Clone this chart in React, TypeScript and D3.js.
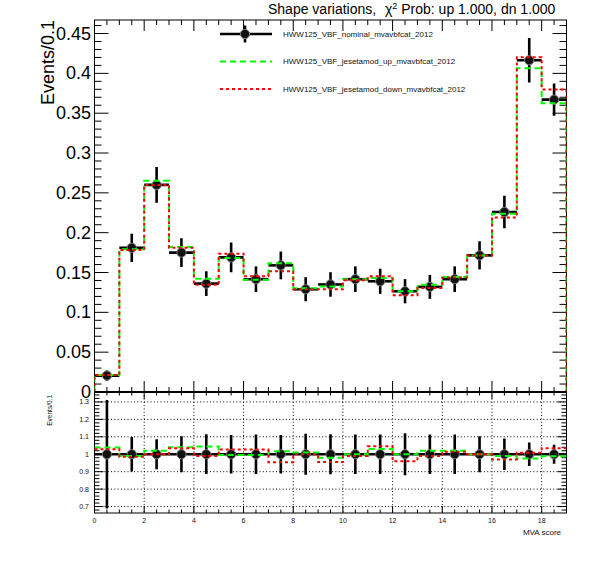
import * as d3 from "d3"

// bin lower edges of the MVA score histogram (19 bins of width 1)
const binLow = [0, 1, 2, 3, 4, 5, 6, 7, 8, 9, 10, 11, 12, 13, 14, 15, 16, 17, 18]
const nominal = [0.0206, 0.181, 0.26, 0.175, 0.136, 0.169, 0.1416, 0.159, 0.129, 0.135, 0.1416, 0.139, 0.1265, 0.132, 0.1416, 0.1715, 0.226, 0.4165, 0.367]
const nominalErr = [0.0064, 0.0178, 0.0224, 0.018, 0.0155, 0.0186, 0.0161, 0.0175, 0.0151, 0.0154, 0.0161, 0.0158, 0.0152, 0.015, 0.0161, 0.0177, 0.0203, 0.0279, 0.0202]
const jesUp = [0.0214, 0.1792, 0.2652, 0.182, 0.1421, 0.1682, 0.1409, 0.1617, 0.1303, 0.1323, 0.1416, 0.1432, 0.1265, 0.1346, 0.1444, 0.1715, 0.2237, 0.4065, 0.3626]
const jesDown = [0.0212, 0.1783, 0.26, 0.1811, 0.1346, 0.1736, 0.1454, 0.1517, 0.129, 0.1289, 0.1402, 0.1453, 0.1214, 0.1307, 0.1437, 0.1715, 0.2192, 0.4202, 0.3798]

const seriesNames = [
  "HWW125_VBF_nominal_mvavbfcat_2012",
  "HWW125_VBF_jesetamod_up_mvavbfcat_2012",
  "HWW125_VBF_jesetamod_down_mvavbfcat_2012",
]

const yTicksTop = [0, 0.05, 0.1, 0.15, 0.2, 0.25, 0.3, 0.35, 0.4, 0.45]
const yLabelsTop = ["0", "0.05", "0.1", "0.15", "0.2", "0.25", "0.3", "0.35", "0.4", "0.45"]
const ratioTicks = [0.7, 0.8, 0.9, 1.0, 1.1, 1.2, 1.3]
const ratioLabels = ["0.7", "0.8", "0.9", "1", "1.1", "1.2", "1.3"]
const xTicks = [0, 2, 4, 6, 8, 10, 12, 14, 16, 18]

const FONT = "'Liberation Sans', Arial, Helvetica, sans-serif"
const GREEN = "#00ff00"
const RED = "#ff0000"

const X0 = 94.5
const X1 = 566.5
const TOP_T = 20
const TOP_B = 392
const LOW_T = 392
const LOW_B = 513

export default function App() {
  const x = d3.scaleLinear().domain([0, 19]).range([X0, X1])
  const yT = d3.scaleLinear().domain([0, 0.467]).range([TOP_B, TOP_T])
  const yR = d3.scaleLinear().domain([0.663, 1.357]).range([LOW_B, LOW_T])

  const step = (y: d3.ScaleLinear<number, number>) =>
    d3
      .line<[number, number]>()
      .x((d) => x(d[0]))
      .y((d) => y(d[1]))
      .curve(d3.curveStepAfter)

  const topHist = (vals: number[]) => {
    const pts: [number, number][] = [[0, 0], ...binLow.map((b, i) => [b, vals[i]] as [number, number]), [19, vals[vals.length - 1]], [19, 0]]
    return step(yT)(pts) || ""
  }
  const ratioHist = (vals: number[]) => {
    const r = vals.map((v, i) => v / nominal[i])
    const pts: [number, number][] = [...binLow.map((b, i) => [b, r[i]] as [number, number]), [19, r[r.length - 1]]]
    return step(yR)(pts) || ""
  }

  const minorX = d3.range(0, 19.01, 0.5)
  const minorYTop = d3.range(0, 0.4601, 0.01)
  const minorYR = d3.range(0.68, 1.3401, 0.02)

  const tick = (k: string, x1: number, y1: number, x2: number, y2: number) => (
    <line key={k} x1={x1} y1={y1} x2={x2} y2={y2} stroke="#000" strokeWidth={1} />
  )

  const isMajorX = (v: number) => Math.abs(v / 2 - Math.round(v / 2)) < 1e-6
  const isMajorYT = (v: number) => Math.abs(v / 0.05 - Math.round(v / 0.05)) < 1e-6
  const isMajorYR = (v: number) => Math.abs(v / 0.1 - Math.round(v / 0.1)) < 1e-6

  const legendY = [34, 61.5, 89]

  return (
    <svg width={596} height={572} style={{ position: "absolute", left: 0, top: 0, background: "#fff" }} fontFamily={FONT}>
      <defs>
        <clipPath id="clip-top">
          <rect x={X0} y={TOP_T} width={X1 - X0} height={TOP_B - TOP_T} />
        </clipPath>
        <clipPath id="clip-low">
          <rect x={X0} y={LOW_T} width={X1 - X0} height={LOW_B - LOW_T} />
        </clipPath>
      </defs>

      {/* title */}
      <text x={268} y={14} fontSize={14}>Shape variations,</text>
      <text x={385} y={14} fontSize={14}>
        χ<tspan dy={-5} fontSize={9}>2</tspan>
        <tspan dy={5}> Prob: up 1.000, dn 1.000</tspan>
      </text>

      {/* ---------- top panel ---------- */}
      <rect x={X0} y={TOP_T} width={X1 - X0} height={TOP_B - TOP_T} fill="none" stroke="#000" strokeWidth={1} />
      {minorYTop.map((v, i) => {
        const len = isMajorYT(v) ? 14 : 7
        return (
          <g key={"yt" + i}>
            {tick("l", X0, yT(v), X0 + len, yT(v))}
            {tick("r", X1, yT(v), X1 - len, yT(v))}
          </g>
        )
      })}
      {minorX.map((v, i) => {
        const len = isMajorX(v) ? 11 : 5
        return (
          <g key={"xt" + i}>
            {tick("t", x(v), TOP_T, x(v), TOP_T + len)}
            {tick("b", x(v), TOP_B, x(v), TOP_B - len)}
          </g>
        )
      })}
      {yTicksTop.map((v, i) => (
        <text key={"ytl" + i} x={91} y={yT(v)} fontSize={18} textAnchor="end" dominantBaseline="central">
          {yLabelsTop[i]}
        </text>
      ))}
      <text transform={`translate(54, ${TOP_T}) rotate(-90)`} fontSize={18} textAnchor="end">
        Events/0.1
      </text>

      <g clipPath="url(#clip-top)">
        {/* nominal points */}
        {binLow.map((b, i) => (
          <g key={"np" + i}>
            <line x1={x(b)} x2={x(b + 1)} y1={yT(nominal[i])} y2={yT(nominal[i])} stroke="#000" strokeWidth={2.6} />
            <line x1={x(b + 0.5)} x2={x(b + 0.5)} y1={yT(nominal[i] - nominalErr[i])} y2={yT(nominal[i] + nominalErr[i])} stroke="#000" strokeWidth={2.6} />
            <circle cx={x(b + 0.5)} cy={yT(nominal[i])} r={4.6} fill="#111" stroke="#777" strokeWidth={1} />
          </g>
        ))}
        <path d={topHist(jesUp)} fill="none" stroke={GREEN} strokeWidth={2} strokeDasharray="6,4" />
        <path d={topHist(jesDown)} fill="none" stroke={RED} strokeWidth={2} strokeDasharray="3,3" />
      </g>

      {/* legend */}
      <line x1={220} x2={272} y1={legendY[0]} y2={legendY[0]} stroke="#000" strokeWidth={2.6} />
      <line x1={245} x2={245} y1={legendY[0] - 8.5} y2={legendY[0] + 8.5} stroke="#000" strokeWidth={2.6} />
      <circle cx={245} cy={legendY[0]} r={4.6} fill="#111" stroke="#777" strokeWidth={1} />
      <line x1={220} x2={272} y1={legendY[1]} y2={legendY[1]} stroke={GREEN} strokeWidth={2} strokeDasharray="6,4" />
      <line x1={220} x2={272} y1={legendY[2]} y2={legendY[2]} stroke={RED} strokeWidth={2} strokeDasharray="3,3" />
      {seriesNames.map((n, i) => (
        <text key={"lg" + i} x={283} y={legendY[i]} fontSize={8} dominantBaseline="central" fill="#111">
          {n}
        </text>
      ))}

      {/* ---------- ratio panel ---------- */}
      {ratioTicks.map((v, i) => (
        <line key={"gh" + i} x1={X0} x2={X1} y1={yR(v)} y2={yR(v)} stroke="#000" strokeWidth={1} strokeDasharray="1,2.3" />
      ))}
      {xTicks.slice(1).map((v, i) => (
        <line key={"gv" + i} x1={x(v)} x2={x(v)} y1={LOW_T} y2={LOW_B} stroke="#000" strokeWidth={1} strokeDasharray="1,2.3" />
      ))}
      <rect x={X0} y={LOW_T} width={X1 - X0} height={LOW_B - LOW_T} fill="none" stroke="#000" strokeWidth={1} />
      <line x1={X0} x2={X1} y1={TOP_B} y2={TOP_B} stroke="#000" strokeWidth={2.2} />
      {minorYR.map((v, i) => {
        const len = isMajorYR(v) ? 9 : 5
        return (
          <g key={"yr" + i}>
            {tick("l", X0, yR(v), X0 + len, yR(v))}
            {tick("r", X1, yR(v), X1 - len, yR(v))}
          </g>
        )
      })}
      {minorX.map((v, i) => {
        const len = isMajorX(v) ? 7 : 3.5
        return (
          <g key={"xr" + i}>
            {tick("t", x(v), LOW_T, x(v), LOW_T + len)}
            {tick("b", x(v), LOW_B, x(v), LOW_B - len)}
          </g>
        )
      })}
      {ratioTicks.map((v, i) => (
        <text key={"yrl" + i} x={89} y={yR(v)} fontSize={7} textAnchor="end" dominantBaseline="central" fill="#111">
          {ratioLabels[i]}
        </text>
      ))}
      <text transform="translate(52, 395) rotate(-90)" fontSize={6.5} textAnchor="end" fill="#111">
        Events/0.1
      </text>
      {xTicks.map((v, i) => (
        <text key={"xl" + i} x={x(v)} y={520} fontSize={7} textAnchor="middle" dominantBaseline="central" fill="#111">
          {v}
        </text>
      ))}
      <text x={561} y={534.5} fontSize={8} textAnchor="end" fill="#111">
        MVA score
      </text>

      <g clipPath="url(#clip-low)">
        {binLow.map((b, i) => (
          <g key={"rp" + i}>
            <line x1={x(b)} x2={x(b + 1)} y1={yR(1)} y2={yR(1)} stroke="#000" strokeWidth={2.6} />
            <line
              x1={x(b + 0.5)}
              x2={x(b + 0.5)}
              y1={yR(1 - nominalErr[i] / nominal[i])}
              y2={yR(1 + nominalErr[i] / nominal[i])}
              stroke="#000"
              strokeWidth={2.6}
            />
            <circle cx={x(b + 0.5)} cy={yR(1)} r={4.6} fill="#111" stroke="#777" strokeWidth={1} />
          </g>
        ))}
        <path d={ratioHist(jesUp)} fill="none" stroke={GREEN} strokeWidth={2} strokeDasharray="6,4" />
        <path d={ratioHist(jesDown)} fill="none" stroke={RED} strokeWidth={2} strokeDasharray="3,3" />
      </g>
    </svg>
  )
}
